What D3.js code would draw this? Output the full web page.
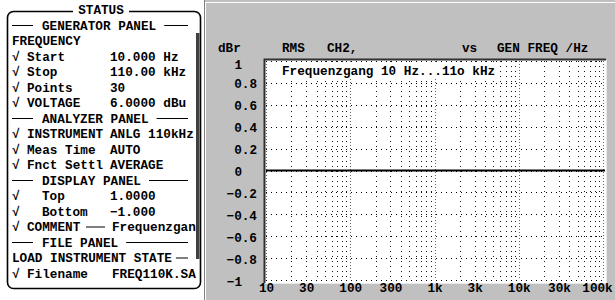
<!DOCTYPE html>
<meta charset="utf-8">
<head>
<style>
body { margin: 0; background: #fff; }
svg text {
  font-family: "Liberation Mono", "DejaVu Sans Mono", monospace;
  font-weight: bold;
  font-size: 12.7px;
  fill: #000;
}
.grid { fill: none; stroke: #000; stroke-width: 1px; shape-rendering: crispEdges; }
</style>
<script src="https://d3js.org/d3.v7.min.js"></script>
</head>
<body>
<div id="chart"></div>
<script>

// sweep: 30 points, 10 Hz ... 110 kHz, level in dBr
var sweepFreq = [10, 13.8, 19.0, 26.2, 36.1, 49.8, 68.6, 94.5, 130, 180,
  248, 341, 471, 649, 894, 1232, 1698, 2341, 3227, 4448,
  6131, 8451, 11649, 16057, 22133, 30508, 42052, 57965, 79900, 110000];
var sweepLevel = [0, 0, 0, 0, 0, 0, 0, 0, 0, 0,
  0, 0, 0, 0, 0, 0, 0, 0, 0, 0,
  0, 0, 0, 0, 0, 0, 0, 0, 0, 0];

var xTicks = [10, 30, 100, 300, 1000, 3000, 10000, 30000, 100000];
var xTickLabels = ["10", "30", "100", "300", "1k", "3k", "10k", "30k", "100k"];
var yTicks = [1, 0.8, 0.6, 0.4, 0.2, 0, -0.2, -0.4, -0.6, -0.8, -1];
var yTickLabels = ["1", "0.8", "0.6", "0.4", "0.2", "0", "−0.2", "−0.4", "−0.6", "−0.8", "−1"];

// status panel rows: [kind, label, value]
var statusRows = [
  ["head", "GENERATOR PANEL"],
  ["plain", "FREQUENCY"],
  ["check", "Start", "10.000 Hz"],
  ["check", "Stop", "110.00 kHz"],
  ["check", "Points", "30"],
  ["check", "VOLTAGE", "6.0000 dBu"],
  ["head", "ANALYZER PANEL"],
  ["check", "INSTRUMENT", "ANLG 110kHz"],
  ["check", "Meas Time", "AUTO"],
  ["check", "Fnct Settl", "AVERAGE"],
  ["head", "DISPLAY PANEL"],
  ["indent", "Top", "1.0000"],
  ["indent", "Bottom", "−1.000"],
  ["comment", "COMMENT", "Frequenzgan"],
  ["head", "FILE PANEL"],
  ["dash", "LOAD INSTRUMENT STATE"],
  ["check", "Filename", "FREQ110K.SA"]
];

var W = 615, H = 300;
var svg = d3.select("#chart").append("svg")
  .attr("width", W).attr("height", H);

////Left status panel
var left = svg.append("g");
left.append("rect").attr("x", 0).attr("y", 0).attr("width", 204).attr("height", H).attr("fill", "#fff");
left.append("rect")
  .attr("x", 7.5).attr("y", 11.5).attr("width", 193).attr("height", 277)
  .attr("rx", 6).attr("fill", "none").attr("stroke", "#000").attr("stroke-width", 1.6);
// gap for title
left.append("rect").attr("x", 73).attr("y", 5).attr("width", 56).attr("height", 12).attr("fill", "#fff");
left.append("text").attr("x", 101).attr("y", 10).attr("dy", "0.35em")
  .attr("text-anchor", "middle").text("STATUS");
// scroll bar
left.append("rect").attr("x", 196).attr("y", 33).attr("width", 3.5).attr("height", 226).attr("fill", "#404040");

var rowY = function(i) { return 10 + 15.5 * (i + 1); };
var colCheck = 12, colLabel = 27, colValue = 110;

statusRows.forEach(function(r, i) {
  var y = rowY(i);
  var kind = r[0];
  if (kind == "head") {
    var t = left.append("text").attr("x", 42).attr("y", y).attr("dy", "0.35em").text(r[1]);
    var end = 42 + t.node().getComputedTextLength();
    left.append("line").attr("x1", 12).attr("x2", 33).attr("y1", y).attr("y2", y).attr("stroke", "#000");
    left.append("line").attr("x1", end + 8).attr("x2", 188).attr("y1", y).attr("y2", y).attr("stroke", "#000");
    return;
  }
  if (kind == "plain" || kind == "dash") {
    var t2 = left.append("text").attr("x", colCheck).attr("y", y).attr("dy", "0.35em").text(r[1]);
    if (kind == "dash") {
      var e2 = colCheck + t2.node().getComputedTextLength();
      left.append("line").attr("x1", e2 + 4).attr("x2", 188).attr("y1", y).attr("y2", y).attr("stroke", "#000");
    }
    return;
  }
  left.append("text").attr("x", colCheck).attr("y", y).attr("dy", "0.35em").text("√");
  left.append("text").attr("x", kind == "indent" ? 42 : colLabel).attr("y", y).attr("dy", "0.35em").text(r[1]);
  if (kind == "comment") {
    left.append("line").attr("x1", 86).attr("x2", 105).attr("y1", y).attr("y2", y).attr("stroke", "#000");
    left.append("text").attr("x", 112).attr("y", y).attr("dy", "0.35em").text(r[2]);
  } else {
    left.append("text").attr("x", r[1] == "Filename" ? 112 : colValue).attr("y", y).attr("dy", "0.35em").text(r[2]);
  }
});

////Right graph panel
var right = svg.append("g");
right.append("rect").attr("x", 204).attr("y", 0).attr("width", W - 204).attr("height", H).attr("fill", "#c0c0c0");
right.append("line").attr("x1", 204.5).attr("x2", 204.5).attr("y1", 0).attr("y2", H).attr("stroke", "#808080");
right.append("line").attr("x1", 205.5).attr("x2", 205.5).attr("y1", 2).attr("y2", H).attr("stroke", "#fff");
right.append("line").attr("x1", 205).attr("x2", W).attr("y1", 2.5).attr("y2", 2.5).attr("stroke", "#fff");

var x = d3.scaleLog().domain([10, 100000]).range([266, 603]);
var y = d3.scaleLinear().domain([-1, 1]).range([280, 61]);

// plot frame
right.append("rect").attr("x", 264).attr("y", 59).attr("width", 342).attr("height", 224).attr("fill", "#fff");
right.append("path").attr("d", "M264.5,283V59.5H606").attr("fill", "none").attr("stroke", "#303030").attr("stroke-width", 2);
right.append("path").attr("d", "M265,283.5H606.5V60").attr("fill", "none").attr("stroke", "#e8e8e8").attr("stroke-width", 1);

// vertical grid
right.selectAll(".vgrid")
  .data(x.ticks())
  .enter().append("line")
    .attr("class", "grid")
    .attr("x1", function(d) { return Math.round(x(d)) + 0.5; })
    .attr("x2", function(d) { return Math.round(x(d)) + 0.5; })
    .attr("y1", y(1)).attr("y2", y(-1))
    .attr("stroke-dasharray", function(d) { return Math.log10(d) % 1 == 0 ? "1,2" : "1,4"; })
    .attr("stroke-opacity", function(d) { return Math.log10(d) % 1 == 0 ? 0.6 : 0.9; });

// horizontal grid
right.selectAll(".hgrid")
  .data(yTicks)
  .enter().append("line")
    .attr("class", "grid")
    .attr("x1", x(10)).attr("x2", x(100000))
    .attr("y1", function(d) { return Math.round(y(d)) + 0.5; })
    .attr("y2", function(d) { return Math.round(y(d)) + 0.5; })
    .attr("stroke-dasharray", "1,4");

// comment inside plot
right.append("rect").attr("x", 280).attr("y", 64).attr("width", 218).attr("height", 13).attr("fill", "#fff");
right.append("text").attr("x", 282).attr("y", 70.5).attr("dy", "0.35em").text("Frequenzgang 10 Hz...11o kHz");

// trace
var line = d3.line()
  .x(function(d, i) { return x(sweepFreq[i]); })
  .y(function(d) { return y(d); });
right.append("clipPath").attr("id", "plotclip")
  .append("rect").attr("x", 265).attr("y", 60).attr("width", 340).attr("height", 223);
right.append("path")
  .datum(sweepLevel)
  .attr("clip-path", "url(#plotclip)")
  .attr("d", line)
  .attr("fill", "none").attr("stroke", "#000").attr("stroke-width", 2);

// axes
var yAxis = right.append("g")
  .attr("transform", "translate(257,1)")
  .call(d3.axisLeft(y).tickValues(yTicks).tickSize(0).tickPadding(0)
    .tickFormat(function(d, i) { return yTickLabels[i]; }));
yAxis.select(".domain").remove();
yAxis.selectAll("text")
  .attr("x", function(d, i) { return yTickLabels[i].indexOf(".") < 0 ? -15 : 0; })
  .attr("y", function(d) { return d == 1 ? 2 : 0; });
yAxis.attr("font-family", null).attr("font-size", null);

var xAxis = right.append("g")
  .attr("transform", "translate(0,286)")
  .call(d3.axisBottom(x).tickValues(xTicks).tickSize(0).tickPadding(0)
    .tickFormat(function(d, i) { return xTickLabels[i]; }));
xAxis.select(".domain").remove();
xAxis.attr("font-family", null).attr("font-size", null);
xAxis.selectAll("text").attr("dy", "0.5em")
  .attr("x", function(d) { return d == 100000 ? -6 : 0; });

// header texts
var header = [["dBr", 218], ["RMS", 282], ["CH2,", 327], ["vs", 462], ["GEN FREQ /Hz", 497]];
right.selectAll(".hdr")
  .data(header)
  .enter().append("text")
    .attr("x", function(d) { return d[1]; })
    .attr("y", 48).attr("dy", "0.35em")
    .text(function(d) { return d[0]; });

</script>
</body>
</html>
